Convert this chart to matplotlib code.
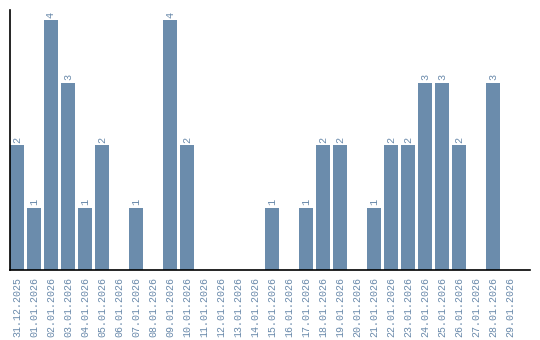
import matplotlib
matplotlib.use("Agg")
import matplotlib.pyplot as plt

dates = ["31.12.2025", "01.01.2026", "02.01.2026", "03.01.2026", "04.01.2026",
         "05.01.2026", "06.01.2026", "07.01.2026", "08.01.2026", "09.01.2026",
         "10.01.2026", "11.01.2026", "12.01.2026", "13.01.2026", "14.01.2026",
         "15.01.2026", "16.01.2026", "17.01.2026", "18.01.2026", "19.01.2026",
         "20.01.2026", "21.01.2026", "22.01.2026", "23.01.2026", "24.01.2026",
         "25.01.2026", "26.01.2026", "27.01.2026", "28.01.2026", "29.01.2026"]
counts = [2, 1, 4, 3, 1, 2, 0, 1, 0, 4,
          2, 0, 0, 0, 0, 1, 0, 1, 2, 2,
          0, 1, 2, 2, 3, 3, 2, 0, 3, 0]

bar_color = "#6b8cac"
text_color = "#6a8aab"
font = "Liberation Mono"

fig = plt.figure(figsize=(5.4, 3.4), dpi=100)
ax = fig.add_axes([10/540, 70/340, 520/540, 260/340])

step = 17.0
width = 14.0 / step
xs = list(range(len(dates)))
bars = ax.bar(xs, counts, width=width, align="edge", color=bar_color)

for x, v in zip(xs, counts):
    if v > 0:
        ax.text(x + width / 2, v + 0.04, str(v), rotation=90, ha="center", va="bottom",
                fontsize=7.4, family=font, color=text_color)

ax.set_xlim(0, 520 / step)
ax.set_ylim(0, 4 + 10 / 62.5)
ax.set_xticks([x + width / 2 for x in xs])
ax.set_xticklabels(dates, rotation=90, fontsize=7.2, family=font, color=text_color)
ax.tick_params(axis="x", length=0, pad=5)
ax.set_yticks([])
for s in ["top", "right"]:
    ax.spines[s].set_visible(False)
ax.spines["left"].set_linewidth(1.2)
ax.spines["bottom"].set_linewidth(1.2)

fig.savefig("out.png", dpi=100)
